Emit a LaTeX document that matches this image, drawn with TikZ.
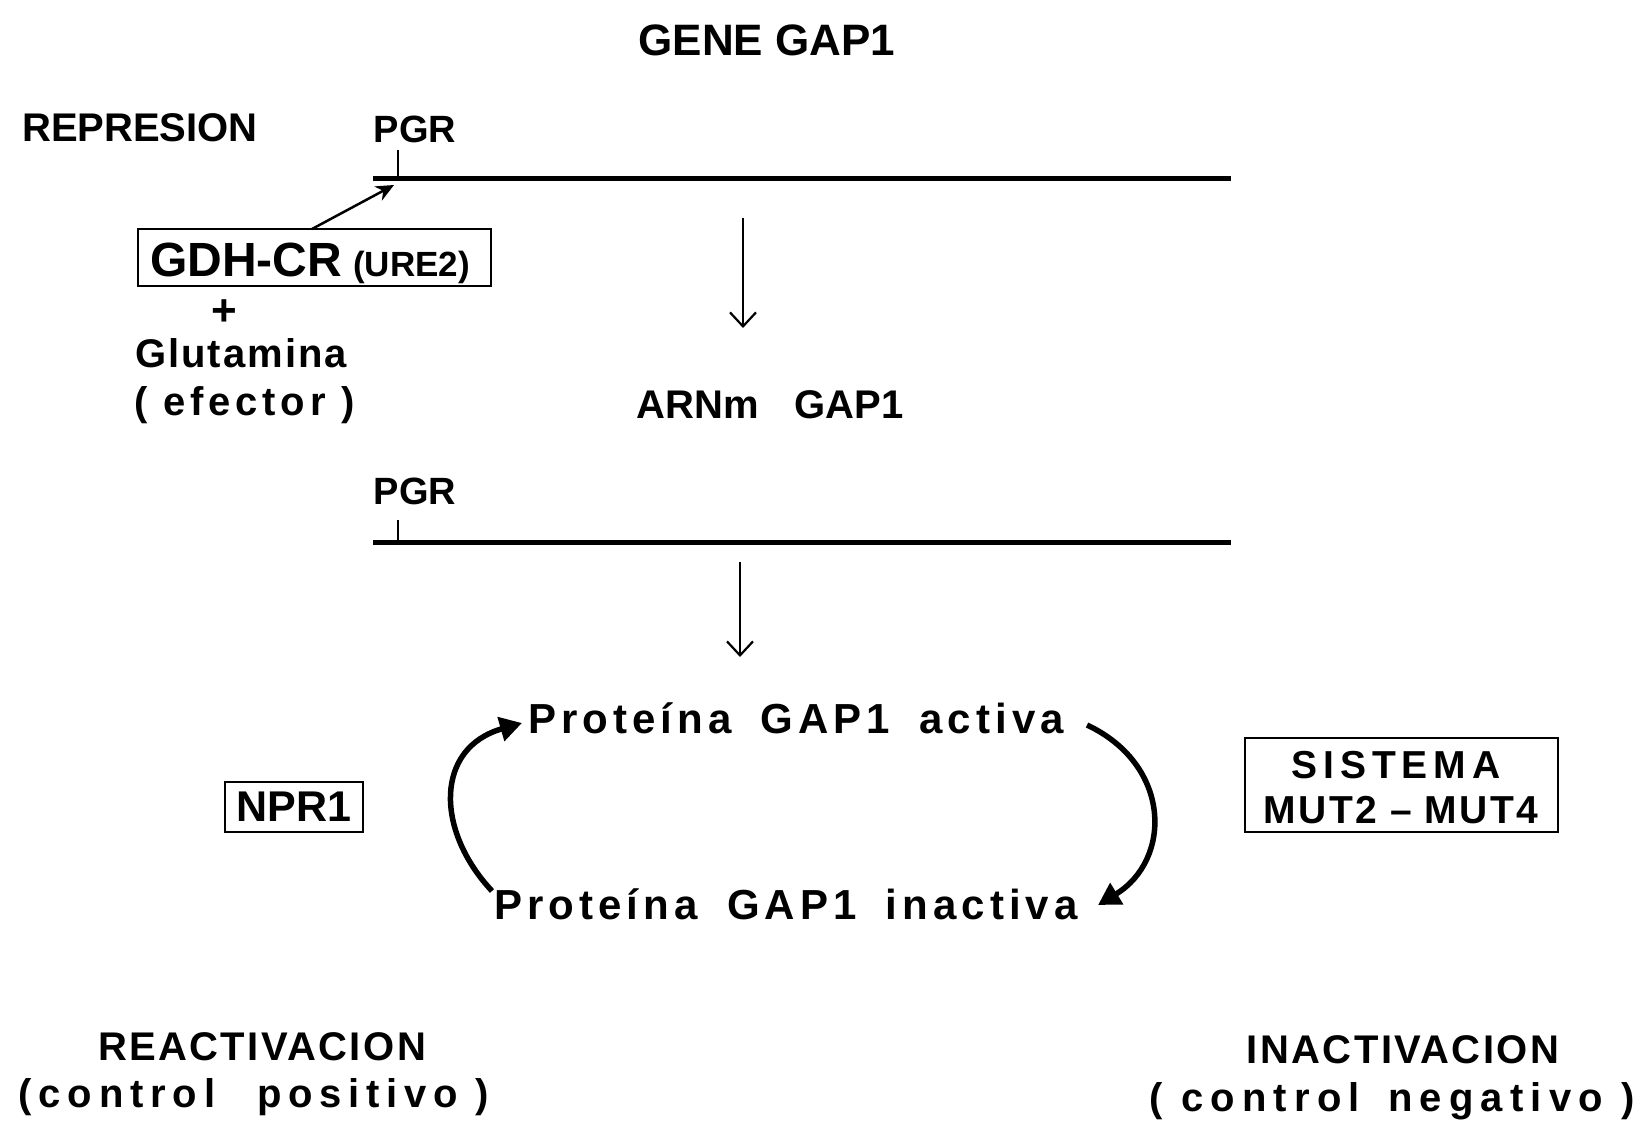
\documentclass[tikz,border=0pt]{standalone}
\usepackage{fontspec}
\setmainfont{Liberation Sans}
\newfontfamily\spA[LetterSpace=5]{Liberation Sans}
\newfontfamily\spB[LetterSpace=12]{Liberation Sans}
\newfontfamily\spC[LetterSpace=12]{Liberation Sans}
\newfontfamily\spD[LetterSpace=17]{Liberation Sans}
\newfontfamily\spG[LetterSpace=18]{Liberation Sans}
\newfontfamily\spE[LetterSpace=15]{Liberation Sans}
\newfontfamily\spF[LetterSpace=6]{Liberation Sans}
\usetikzlibrary{arrows.meta}
\begin{document}
\begin{tikzpicture}[x=1pt,y=-1pt]
\useasboundingbox (0,0) rectangle (1647,1127);
\tikzset{
  lbl/.style={inner sep=0pt, anchor=base, font=\bfseries\fontsize{40}{44}\selectfont},
  geneline/.style={line width=5pt},
  tickline/.style={line width=2pt},
  dnarrow/.style={line width=2.2pt, -{Straight Barb[length=14pt,width=26pt,line width=2.2pt]}},
  cyc/.style={line width=5.5pt, -{Triangle[length=22pt,width=24pt]}},
  boxed/.style={draw, line width=2.8pt}
}
% title
\node[lbl, font=\bfseries\fontsize{44}{48}\selectfont] (gene) at (767,55) {GENE GAP1};
\node[lbl] (repr) at (140,141) {REPRESION};
\node[lbl, font=\bfseries\fontsize{38}{42}\selectfont] (pgr1) at (415,142) {PGR};
% first gene line
\coordinate (l1a) at (373,178);
\coordinate (l1b) at (1231,178);
\coordinate (t1a) at (398,150);
\coordinate (t1b) at (398,178);
\draw[geneline] (l1a) -- (l1b);
\draw[tickline] (t1a) -- (t1b);
% GDH-CR box
\draw[boxed] (138,229) rectangle (491,286);
\node[lbl, font=\bfseries\fontsize{48}{52}\selectfont, anchor=base west] (gdh) at (150,276) {GDH-CR};
\node[lbl, font=\bfseries\fontsize{35}{40}\selectfont, anchor=base west] (ure) at (353,276) {(URE2)};
\coordinate (boxtop) at (312,229);
\coordinate (prom) at (394,185);
\draw[line width=2.5pt, -{Stealth[length=18pt,width=16pt]}] (boxtop) -- (prom);
\node[lbl, font=\bfseries\fontsize{44}{48}\selectfont] (plus) at (224,325) {+};
\node[lbl, font=\spA\bfseries\fontsize{40}{44}\selectfont, anchor=base west] (glu) at (135,367) {Glutamina};
\node[lbl, font=\spB\bfseries\fontsize{40}{44}\selectfont, anchor=base west] (efe) at (134,415) {( efector )};
% arrow to mRNA
\coordinate (a1s) at (743,218);
\coordinate (a1e) at (743,328);
\draw[dnarrow] (a1s) -- (a1e);
\node[lbl] (arn) at (770,418) {ARNm\hspace{0.9em}GAP1};
% second line
\node[lbl, font=\bfseries\fontsize{38}{42}\selectfont] (pgr2) at (415,504) {PGR};
\coordinate (l2a) at (373,542);
\coordinate (l2b) at (1231,542);
\coordinate (t2a) at (398,520);
\coordinate (t2b) at (398,542);
\draw[geneline] (l2a) -- (l2b);
\draw[tickline] (t2a) -- (t2b);
\coordinate (a2s) at (740,562);
\coordinate (a2e) at (740,657);
\draw[dnarrow] (a2s) -- (a2e);
% proteins
\node[lbl, font=\spC\bfseries\fontsize{42}{46}\selectfont] (act) at (796,733) {Proteína\hspace{0.3em} GAP1\hspace{0.3em} activa};
\node[lbl, font=\spC\bfseries\fontsize{42}{46}\selectfont] (inact) at (786,919) {Proteína\hspace{0.3em} GAP1\hspace{0.3em} inactiva};
% cycle arrows
\coordinate (ls) at (492,891);
\coordinate (le) at (522,723);
\draw[cyc] (ls) .. controls (435,830) and (435,748) .. (le);
\coordinate (rs) at (1087,725);
\coordinate (re) at (1098,905);
\draw[cyc] (rs) .. controls (1172,765) and (1172,860) .. (re);
% side boxes
\node[boxed, lbl, anchor=center, font=\bfseries\fontsize{43}{46}\selectfont, minimum width=138pt, minimum height=50pt] (npr) at (294,807) {NPR1};
\draw[boxed] (1245,738) rectangle (1558,832);
\node[lbl, font=\spE\bfseries\fontsize{39}{44}\selectfont] (sis) at (1396,778) {SISTEMA};
\node[lbl, font=\spF\bfseries\fontsize{39}{44}\selectfont] (mut) at (1401,823) {MUT2 – MUT4};
% bottom labels
\node[lbl, font=\spF\bfseries\fontsize{40}{44}\selectfont] (react) at (262,1060) {REACTIVACION};
\node[lbl, font=\spD\bfseries\fontsize{40}{44}\selectfont] (cpos) at (254,1107) {(control\hspace{0.6em} positivo )};
\node[lbl, font=\spF\bfseries\fontsize{40}{44}\selectfont] (inac) at (1403,1063) {INACTIVACION};
\node[lbl, font=\spG\bfseries\fontsize{40}{44}\selectfont] (cneg) at (1392,1111) {( control\hspace{0.25em} negativo )};
\end{tikzpicture}
\end{document}
